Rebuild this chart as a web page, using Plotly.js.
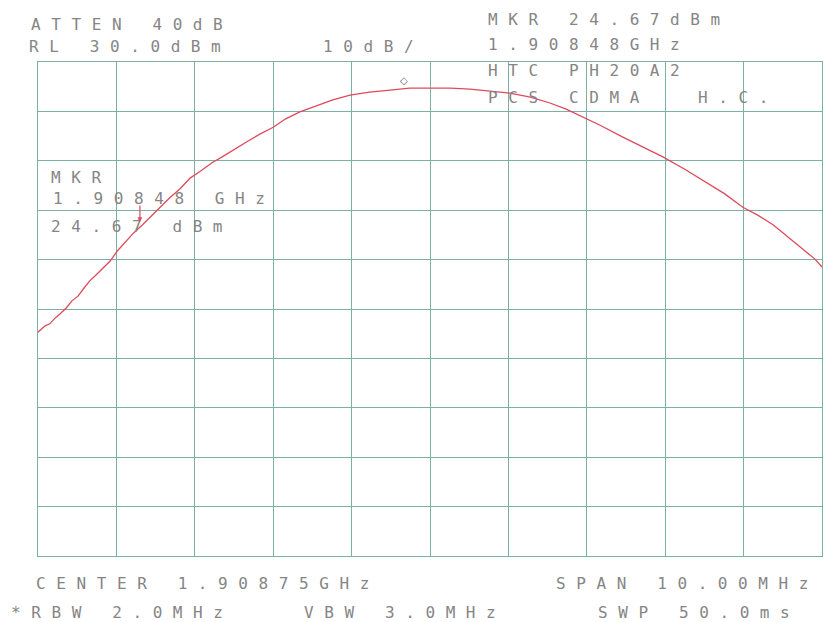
<!DOCTYPE html>
<html>
<head>
<meta charset="utf-8">
<script src="https://cdn.plot.ly/plotly-3.0.1.min.js"></script>
<style>
  html, body { margin: 0; padding: 0; background: #ffffff; }
  #chart { width: 829px; height: 622px; }
  .annotation-text { letter-spacing: 10.6px; }
</style>
</head>
<body>
<div id="chart"></div>
<script>
// Spectrum analyzer trace (frequency in GHz, level in dBm)
const freqGHz = [
  1.90375, 1.90384, 1.90390, 1.90397, 1.90403, 1.90411, 1.90418, 1.90426, 1.90434, 1.90441,
  1.90449, 1.90458, 1.90467, 1.90477, 1.90487, 1.90497, 1.90508, 1.90518, 1.90531, 1.90543,
  1.90556, 1.90569, 1.90582, 1.90597, 1.90612, 1.90628, 1.90643, 1.90658, 1.90675, 1.90691,
  1.90709, 1.90730, 1.90750, 1.90773, 1.90798, 1.90824, 1.90849, 1.90875, 1.90901, 1.90926,
  1.90952, 1.90977, 1.91003, 1.91028, 1.91048, 1.91070, 1.91092, 1.91121, 1.91147, 1.91172,
  1.91200, 1.91228, 1.91251, 1.91274, 1.91293, 1.91313, 1.91334, 1.91356, 1.91366, 1.91375
];
const levelDBm = [
  -24.7, -23.4, -23.0, -21.8, -21.0, -19.8, -18.4, -17.4, -15.7, -14.3,
  -13.1, -11.7, -10.3, -8.1, -6.4, -4.6, -3.0, -1.4, 0.6, 2.5,
  4.3, 6.5, 7.9, 9.6, 11.0, 12.6, 14.0, 15.4, 16.8, 18.5,
  19.9, 21.1, 22.3, 23.3, 23.9, 24.3, 24.7, 24.7, 24.7, 24.5,
  24.1, 23.7, 22.9, 21.7, 20.5, 18.9, 17.2, 14.8, 12.8, 10.8,
  8.3, 5.5, 3.3, 0.6, -1.0, -3.0, -5.8, -8.7, -9.9, -11.5
];

// Instrument settings
const centerGHz = 1.90875;
const spanGHz = 0.010;
const refLevel = 30;
const dbPerDiv = 10;
const divisions = 10;

// Marker
const markerFreq = 1.90848;
const markerLevel = 24.67;
const arrowFreq = 1.90505;
const arrowLevel = -2.4;

// Texts
const headerLeft = ["ATTEN 40dB", "RL 30.0dBm"];
const scaleText = "10dB/";
const headerRight = ["MKR 24.67dBm", "1.90848GHz", "HTC PH20A2", "PCS CDMA", "H.C."];
const mkrBox = ["MKR", "1.90848 GHz", "24.67 dBm"];
const footer = ["CENTER 1.90875GHz", "SPAN 10.00MHz", "*RBW 2.0MHz", "VBW 3.0MHz", "SWP 50.0ms"];

const textColor = "#858585";
const gridColor = "#7cb0a2";
const traceColor = "#de4a5c";
const txtFont = {family: "DejaVu Sans Mono", size: 16, color: textColor};

function txt(text, x, y) {
  return {text: text, xref: "paper", yref: "paper", x: x, y: y,
          xanchor: "left", yanchor: "middle", showarrow: false, font: txtFont};
}

const annotations = [
  txt(headerLeft[0], -0.0115, 1.0769),
  txt(headerLeft[1], -0.0140, 1.0304),
  txt(scaleText, 0.3610, 1.0304),
  txt(headerRight[0], 0.5715, 1.0870),
  txt(headerRight[1], 0.5715, 1.0364),
  txt(headerRight[2], 0.5715, 0.9818),
  txt(headerRight[3], 0.5715, 0.9291),
  txt(headerRight[4], 0.8395, 0.9291),
  txt(mkrBox[0], 0.0140, 0.7652),
  txt(mkrBox[1], 0.0166, 0.7227),
  txt(mkrBox[2], 0.0140, 0.6660),
  txt(footer[0], -0.0050, -0.0547),
  txt(footer[1], 0.6580, -0.0547),
  txt(footer[2], -0.0370, -0.1134),
  txt(footer[3], 0.3368, -0.1134),
  txt(footer[4], 0.7118, -0.1134),
  {x: markerFreq, y: markerLevel, xref: "x", yref: "y", text: "\u25C7", showarrow: false,
   yshift: 8, font: {family: "DejaVu Sans", size: 10, color: "#666"}},
  {x: arrowFreq, y: arrowLevel, xref: "x", yref: "y", text: "", showarrow: true,
   ax: 0, ay: -18, arrowhead: 2, arrowsize: 0.8, arrowwidth: 1.2, arrowcolor: traceColor}
];

const trace = {
  x: freqGHz, y: levelDBm, type: "scatter", mode: "lines",
  line: {color: traceColor, width: 1.3}, hoverinfo: "skip"
};

const layout = {
  width: 829, height: 622,
  margin: {l: 38, r: 7, t: 62, b: 66, pad: 0},
  paper_bgcolor: "#ffffff", plot_bgcolor: "#ffffff",
  showlegend: false,
  xaxis: {
    range: [centerGHz - spanGHz / 2, centerGHz + spanGHz / 2],
    tick0: centerGHz - spanGHz / 2, dtick: spanGHz / divisions,
    showticklabels: false, ticks: "", zeroline: false,
    showgrid: true, gridcolor: gridColor, gridwidth: 1,
    showline: true, linecolor: gridColor, linewidth: 1.2, mirror: true
  },
  yaxis: {
    range: [refLevel - dbPerDiv * divisions, refLevel],
    tick0: refLevel, dtick: dbPerDiv,
    showticklabels: false, ticks: "", zeroline: false,
    showgrid: true, gridcolor: gridColor, gridwidth: 1,
    showline: true, linecolor: gridColor, linewidth: 1.2, mirror: true
  },
  annotations: annotations
};

Plotly.newPlot("chart", [trace], layout, {displayModeBar: false, staticPlot: true});
</script>
</body>
</html>
